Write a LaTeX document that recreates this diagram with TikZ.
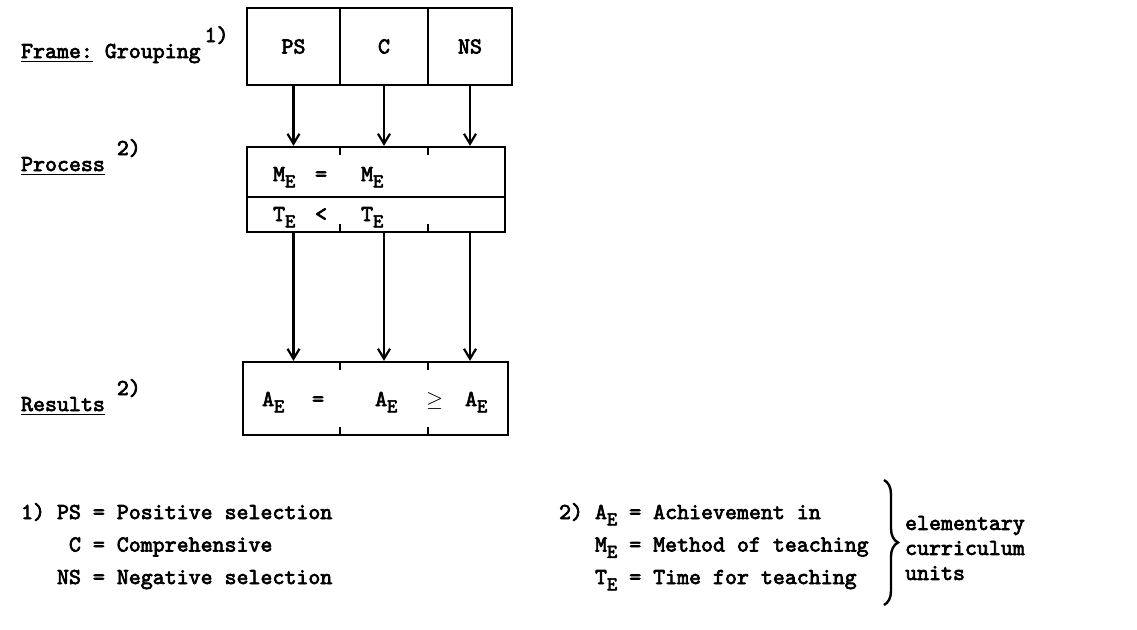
\documentclass[tikz,border=0pt]{standalone}
\usepackage{fontspec}
\newfontfamily\typer{lmmono10-regular}[Extension=.otf, FakeBold=3]
\usepackage{tikz}
\usetikzlibrary{arrows, arrows.meta, decorations.pathreplacing}
\newcommand{\idx}[1]{\raisebox{-0.65ex}{\fontsize{9.8}{10}\selectfont #1}}
\newcommand{\fnref}[1]{\raisebox{8pt}{#1}}

\begin{document}
\begin{tikzpicture}[x=0.5pt, y=-0.5pt, >={Straight Barb[length=5pt,width=6pt]}, line width=1.1pt, font=\fontsize{11.4}{12.5}\selectfont\typer]
\tikzstyle{cell}=[draw, inner sep=0pt, minimum height=38.5pt]
\tikzstyle{row}=[draw, inner sep=0pt, minimum width=129pt]
\tikzstyle{txt}=[inner sep=0pt, anchor=base west]
\useasboundingbox (0,0) rectangle (1137,629);

% frame
\node[txt] (framelbl) at (20,58) {\underline{Frame:} Grouping\hspace{2pt}\fnref{1)}};
\node[cell, minimum width=46.5pt] (ps) at (293.5,46.5) {PS};
\node[cell, minimum width=44pt] (c) at (384,46.5) {C};
\node[cell, minimum width=42pt] (ns) at (470,46.5) {NS};

% process
\node[txt] (proclbl) at (20,171) {\underline{Process}\hspace{6pt}\fnref{2)}};
\node[row, minimum height=25pt] (merow) at (376,172) {};
\node[row, minimum height=17.5pt] (terow) at (376,214.5) {};
\node[txt] (m1) at (272,181) {M\idx{E}};
\node[txt] (meq) at (314,181) {=};
\node[txt] (m2) at (360,181) {M\idx{E}};
\node[txt] (t1) at (272,221) {T\idx{E}};
\node[txt] (tlt) at (314,221) {<};
\node[txt] (t2) at (360,221) {T\idx{E}};

% results
\node[txt] (reslbl) at (20,411) {\underline{Results}\hspace{6pt}\fnref{2)}};
\node[draw, inner sep=0pt, minimum width=132.5pt, minimum height=36.5pt] (res) at (375.5,398.5) {};
\node[txt] (a1) at (261,406) {A\idx{E}};
\node[txt] (aeq) at (311,406) {=};
\node[txt] (a2) at (374,406) {A\idx{E}};
\node[txt] (age) at (425,406) {$\geq$};
\node[txt] (a3) at (464,406) {A\idx{E}};

\foreach \x in {340,428} {
   \draw (\x,147) -- (\x,155);
   \draw (\x,232) -- (\x,224);
   \draw (\x,362) -- (\x,370);
   \draw (\x,435) -- (\x,427);
}

\foreach \c in {ps,c,ns} {
   \draw[->] (\c.south) -- (\c.south |- merow.north);
   \draw[->] (\c.south |- terow.south) -- (\c.south |- res.north);
}

% notes
\node[txt] (note1) at (20,519) {\fontsize{11.4}{16.25}\selectfont
   \begin{tabular}[t]{@{}r@{~=~}l@{}}
   1) PS & Positive selection\\
   C & Comprehensive\\
   NS & Negative selection
   \end{tabular}};
\node[txt] (note2) at (558,519) {\fontsize{11.4}{16.25}\selectfont
   \begin{tabular}[t]{@{}r@{~=~}l@{}}
   2) A\idx{E} & Achievement in\\
   M\idx{E} & Method of teaching\\
   T\idx{E} & Time for teaching
   \end{tabular}};
\draw[line width=1.2pt, decorate, decoration={brace, amplitude=7pt}] (884,480) -- (884,605);
\node[anchor=west, align=left, inner sep=0pt] (units) at (904,548) {elementary\\curriculum\\units};

\end{tikzpicture}
\end{document}
